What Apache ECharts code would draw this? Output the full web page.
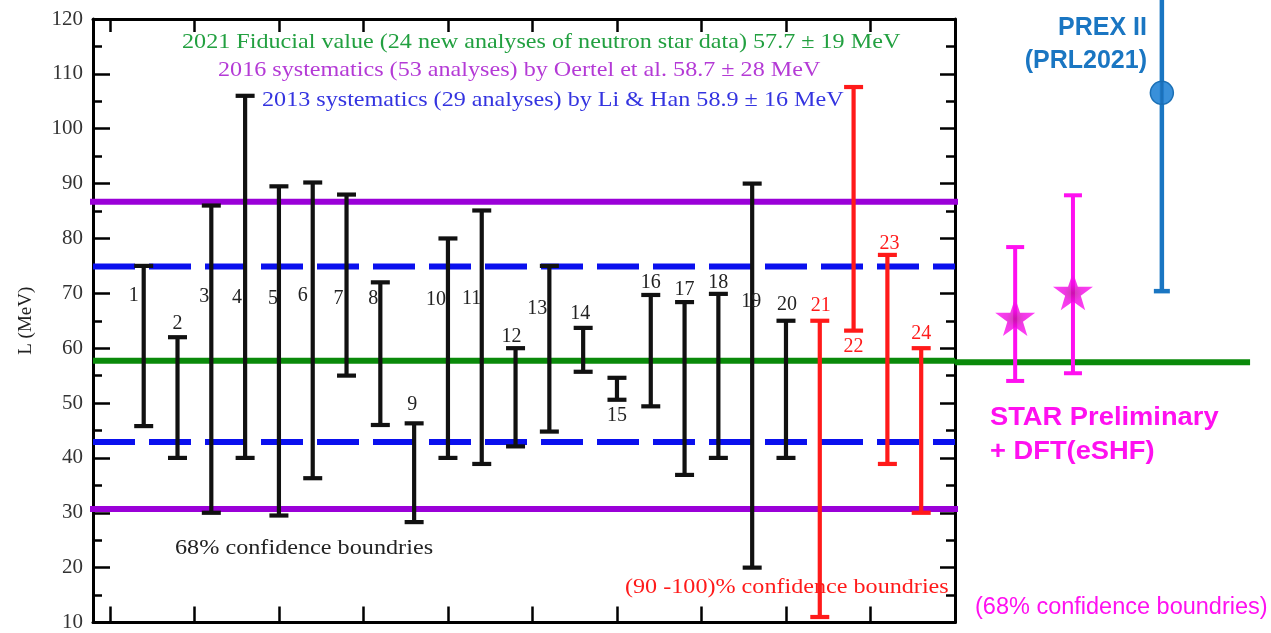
<!DOCTYPE html>
<html>
<head>
<meta charset="utf-8">
<script src="https://cdn.jsdelivr.net/npm/echarts@6/dist/echarts.min.js"></script>
<style>
  html, body { margin: 0; padding: 0; background: #ffffff; }
  #chart { width: 1271px; height: 633px; }
</style>
</head>
<body>
<div id="chart"></div>
<script>
// ---- Data: symmetry-energy slope L (MeV) from individual analyses ----
const analysisTags = ['1','2','3','4','5','6','7','8','9','10','11','12',
                      '13','14','15','16','17','18','19','20','21','22','23','24'];
const lowerL = [45.8, 40, 30, 40, 29.5, 36.3, 55, 46, 28.3, 40, 38.9, 42.1,
                44.8, 55.7, 50.6, 49.4, 36.9, 40, 20, 40, 11, 63.2, 38.9, 30];
const upperL = [75, 62, 86, 106, 89.5, 90.2, 88, 72, 46.3, 80, 85.1, 60,
                75, 63.7, 54.6, 69.7, 68.4, 69.9, 90, 65, 65, 107.6, 77, 60];
// analyses from this index on quote (90-100)% confidence ranges
const firstWideCL = 20;

// systematics: central values and half-widths (MeV)
const fiducial2021 = [57.7, 19];
const oertel2016 = [58.7, 28];
const liHan2013 = [58.9, 16];

// STAR Preliminary + DFT(eSHF)
const starCentral = [65.9, 70.6];
const starLower = [54.3, 55.7];
const starUpper = [78.6, 88.0];

// PREX II (PRL 2021)
const prexCentral = 106.6;
const prexLower = 70.6;
const prexUpper = 143;

const yTicks = [10, 20, 30, 40, 50, 60, 70, 80, 90, 100, 110, 120];

// ---- Layout (pixel offsets and slot positions, not data) ----
const tagDx = [-10, 0, -7, -8, -6, -10, -8, -7, -2, -12, -10, -4,
               -12, -3, 0, 0, 0, 0, -1, 1, 1, 0, 2, 0];
const tagAtL = [69.6, 64.4, 69.4, 69.2, 69.0, 69.6, 69.0, 69.0, 49.6, 68.8, 69.0, 62.1,
                67.2, 66.3, 47.7, 71.9, 70.6, 72.0, 68.4, 67.9, 67.7, 60.3, 79.0, 62.6];
const starSlots = [1.78, 3.49];
const prexSlot = 6.12;
const sideLineEnd = 8.73;

const SERIF = '"Liberation Serif", "Times New Roman", serif';
const SANS = '"Liberation Sans", Arial, sans-serif';

const C = {
  black: '#111111',
  red: '#ff1a1a',
  green: '#0a8a0a',
  greenText: '#22a040',
  purple: '#9a00d8',
  purpleText: '#b43ad6',
  blue: '#0a10ee',
  blueText: '#3434e0',
  magenta: '#ff10f0',
  prex: '#1a76c2'
};

const chart = echarts.init(document.getElementById('chart'), null, { renderer: 'canvas' });

function barColor(i) { return i >= firstWideCL ? C.red : C.black; }

function errorBar(color, capHalf, width) {
  return function (params, api) {
    const x = api.value(0);
    const lo = api.coord([x, api.value(1)]);
    const hi = api.coord([x, api.value(2)]);
    const stroke = typeof color === 'function' ? color(params.dataIndex) : color;
    const style = { stroke: stroke, lineWidth: width };
    return {
      type: 'group',
      children: [
        { type: 'line', shape: { x1: lo[0], y1: lo[1], x2: hi[0], y2: hi[1] }, style: style },
        { type: 'line', shape: { x1: hi[0] - capHalf, y1: hi[1], x2: hi[0] + capHalf, y2: hi[1] }, style: style },
        { type: 'line', shape: { x1: lo[0] - capHalf, y1: lo[1], x2: lo[0] + capHalf, y2: lo[1] }, style: style }
      ]
    };
  };
}

function hLine(name, value, color, type, xIdx, x0, x1) {
  return {
    name: name, type: 'line', xAxisIndex: xIdx, yAxisIndex: xIdx,
    data: [[x0, value], [x1, value]],
    symbol: 'none', silent: true, clip: false, z: 1,
    lineStyle: { color: color, width: 6, type: type }
  };
}

// stretched text label drawn as a graphic element
function note(text, x, y, fill, font, stretch, align) {
  return {
    type: 'text', x: x, y: y, z: 1, scaleX: stretch || 1,
    style: { text: text, fill: fill, font: font, align: align || 'left', verticalAlign: 'middle' }
  };
}

const X_MIN = -0.5, X_MAX = 25;
const barData = analysisTags.map((t, i) => [i + 1, lowerL[i], upperL[i]]);
const tagData = analysisTags.map((t, i) => [i + 1, tagAtL[i]]);

const starPath = 'path://M50,0 L61.8,35.1 L98.1,35.1 L68.8,56.7 L79.4,91.0 L50,70 L20.6,91.0 L31.2,56.7 L1.9,35.1 L38.2,35.1 Z';

const option = {
  animation: false,
  backgroundColor: '#ffffff',
  grid: [
    { left: 93, top: 19, width: 862, height: 606 },
    { left: 955, top: 19, width: 316, height: 606 }
  ],
  xAxis: [
    {
      gridIndex: 0, type: 'value', min: X_MIN, max: X_MAX, position: 'bottom',
      axisLine: { show: true, onZero: false, lineStyle: { color: '#000', width: 3 } },
      axisTick: { show: true, inside: true, length: 16, lineStyle: { color: '#000', width: 2.5 },
                  customValues: [0, 2.5, 5, 7.5, 10, 12.5, 15, 17.5, 20, 22.5] },
      axisLabel: { show: false }, splitLine: { show: false }
    },
    {
      gridIndex: 0, type: 'value', min: X_MIN, max: X_MAX, position: 'top',
      axisLine: { show: true, onZero: false, lineStyle: { color: '#000', width: 3 } },
      axisTick: { show: true, inside: true, length: 13, lineStyle: { color: '#000', width: 2.5 },
                  customValues: [0, 2.5, 5, 7.5, 10, 12.5, 15, 17.5, 20, 22.5] },
      axisLabel: { show: false }, splitLine: { show: false }
    },
    { gridIndex: 1, type: 'value', min: 0, max: 316 / 33.8, show: false }
  ],
  yAxis: [
    {
      gridIndex: 0, type: 'value', min: yTicks[0], max: yTicks[yTicks.length - 1], interval: 10,
      position: 'left',
      name: 'L (MeV)', nameLocation: 'middle', nameRotate: 90, nameGap: 57,
      nameTextStyle: { fontFamily: SERIF, fontSize: 19, color: '#222' },
      axisLine: { show: true, onZero: false, lineStyle: { color: '#000', width: 3 } },
      axisTick: { show: true, inside: true, length: 17, lineStyle: { color: '#000', width: 2.5 } },
      minorTick: { show: true, splitNumber: 2, length: 9, lineStyle: { color: '#000', width: 2.5 } },
      axisLabel: { fontFamily: SERIF, fontSize: 21, color: '#333', margin: 10 },
      splitLine: { show: false }
    },
    {
      gridIndex: 0, type: 'value', min: yTicks[0], max: yTicks[yTicks.length - 1], interval: 10,
      position: 'right',
      axisLine: { show: true, onZero: false, lineStyle: { color: '#000', width: 3 } },
      axisTick: { show: true, inside: true, length: 15, lineStyle: { color: '#000', width: 2.5 } },
      minorTick: { show: true, splitNumber: 2, length: 9, lineStyle: { color: '#000', width: 2.5 } },
      axisLabel: { show: false },
      splitLine: { show: false }
    },
    { gridIndex: 1, type: 'value', min: yTicks[0], max: yTicks[yTicks.length - 1], show: false }
  ],
  series: [
    hLine('2016 upper', oertel2016[0] + oertel2016[1], C.purple, 'solid', 0, X_MIN - 0.15, X_MAX + 0.15),
    hLine('2016 lower', oertel2016[0] - oertel2016[1], C.purple, 'solid', 0, X_MIN - 0.15, X_MAX + 0.15),
    hLine('2013 upper', liHan2013[0] + liHan2013[1], C.blue, [42, 14], 0, X_MIN, X_MAX),
    hLine('2013 lower', liHan2013[0] - liHan2013[1], C.blue, [42, 14], 0, X_MIN, X_MAX),
    hLine('2021 fiducial', fiducial2021[0], C.green, 'solid', 0, X_MIN, X_MAX),
    hLine('2021 fiducial (ext)', fiducial2021[0], C.green, 'solid', 2, 0, sideLineEnd),
    {
      name: 'analyses', type: 'custom', xAxisIndex: 0, yAxisIndex: 0, z: 3, clip: false,
      renderItem: errorBar(barColor, 9.5, 4.2),
      data: barData
    },
    {
      name: 'analysis tags', type: 'custom', xAxisIndex: 0, yAxisIndex: 0, z: 4, clip: false,
      renderItem: function (params, api) {
        const p = api.coord([api.value(0), api.value(1)]);
        const i = params.dataIndex;
        return {
          type: 'text', x: p[0] + tagDx[i], y: p[1],
          style: { text: analysisTags[i], fill: i >= firstWideCL ? C.red : '#222',
                   font: '20px ' + SERIF, align: 'center', verticalAlign: 'middle' }
        };
      },
      data: tagData
    },
    {
      name: 'STAR bars', type: 'custom', xAxisIndex: 2, yAxisIndex: 2, z: 3, clip: false,
      renderItem: errorBar(C.magenta, 9, 4),
      data: starSlots.map((s, i) => [s, starLower[i], starUpper[i]])
    },
    {
      name: 'STAR', type: 'scatter', xAxisIndex: 2, yAxisIndex: 2, z: 4,
      symbol: starPath, symbolSize: [40, 38],
      itemStyle: {
        color: {
          type: 'radial', x: 0.5, y: 0.55, r: 0.5,
          colorStops: [{ offset: 0, color: '#c0109c' }, { offset: 0.45, color: '#ee08e0' }, { offset: 1, color: '#ff10f4' }]
        }
      },
      data: starSlots.map((s, i) => [s, starCentral[i]])
    },
    {
      name: 'PREX II', type: 'custom', xAxisIndex: 2, yAxisIndex: 2, z: 4, clip: false,
      renderItem: function (params, api) {
        const x = api.value(0);
        const lo = api.coord([x, api.value(1)]);
        const hi = api.coord([x, api.value(2)]);
        const c = api.coord([x, api.value(3)]);
        const st = { stroke: C.prex, lineWidth: 4.5 };
        return {
          type: 'group',
          children: [
            { type: 'line', shape: { x1: lo[0], y1: lo[1], x2: hi[0], y2: hi[1] }, style: st },
            { type: 'line', shape: { x1: lo[0] - 8, y1: lo[1], x2: lo[0] + 8, y2: lo[1] }, style: st },
            { type: 'circle', shape: { cx: c[0], cy: c[1], r: 11.5 },
              style: { fill: 'rgba(40,135,215,0.92)', stroke: '#1a6fb5', lineWidth: 1.5 } },
            { type: 'line', shape: { x1: c[0], y1: c[1] - 11, x2: c[0], y2: c[1] + 11 },
              style: { stroke: 'rgba(20,100,170,0.6)', lineWidth: 3 } }
          ]
        };
      },
      data: [[prexSlot, prexLower, prexUpper, prexCentral]]
    }
  ],
  graphic: [
    note('2021 Fiducial value (24 new analyses of neutron star data) 57.7 \u00b1 19 MeV',
         182, 42, C.greenText, '22px ' + SERIF, 1.097),
    note('2016 systematics (53 analyses) by Oertel et al. 58.7 \u00b1 28 MeV',
         218, 70, C.purpleText, '22px ' + SERIF, 1.097),
    note('2013 systematics (29 analyses) by Li & Han 58.9 \u00b1 16 MeV',
         262, 100, C.blueText, '22px ' + SERIF, 1.097),
    note('68% confidence boundries', 175, 548, '#222', '22px ' + SERIF, 1.1),
    note('(90 -100)% confidence boundries', 625, 587, C.red, '22px ' + SERIF, 1.097),
    note('PREX II', 1147, 28, C.prex, 'bold 25px ' + SANS, 1, 'right'),
    note('(PRL2021)', 1147, 61, C.prex, 'bold 25px ' + SANS, 1, 'right'),
    note('STAR Preliminary', 990, 418, C.magenta, 'bold 26px ' + SANS, 1.05),
    note('+ DFT(eSHF)', 990, 452, C.magenta, 'bold 26px ' + SANS, 1.05),
    note('(68% confidence boundries)', 975, 608, C.magenta, '23.5px ' + SANS, 1)
  ]
};

chart.setOption(option);
</script>
</body>
</html>
